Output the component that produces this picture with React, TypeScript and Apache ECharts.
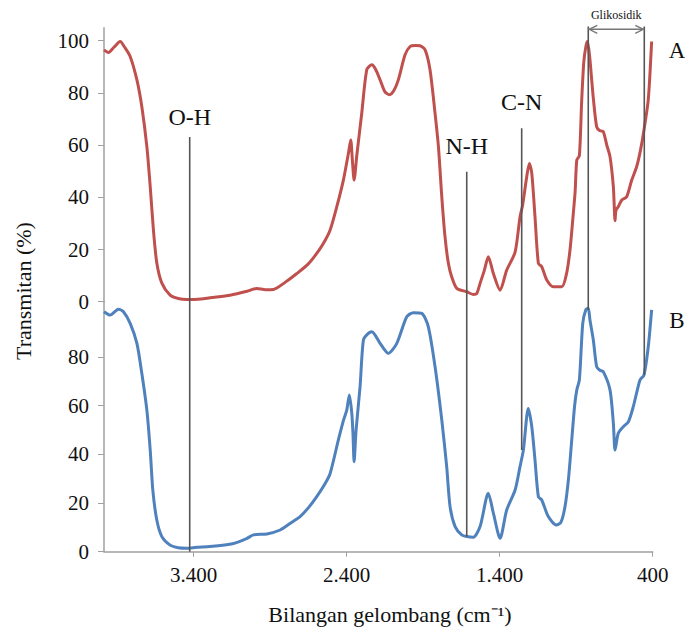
import React, { useEffect, useRef } from 'react';
import * as echarts from 'echarts';

// Spectrum A (red, upper panel): wavenumber (cm-1) and transmittance (%)
const waveA = [3985, 3956, 3920, 3879, 3850, 3814, 3770, 3738, 3705, 3683, 3662, 3640, 3607, 3553, 3500, 3444, 3350, 3292, 3161, 3050, 2987, 2930, 2878, 2800, 2725, 2650, 2595, 2550, 2508, 2464, 2421, 2388, 2373, 2362, 2351, 2333, 2301, 2268, 2235, 2210, 2181, 2150, 2120, 2090, 2062, 2018, 1985, 1950, 1920, 1887, 1855, 1822, 1800, 1778, 1757, 1735, 1713, 1680, 1615, 1572, 1550, 1528, 1500, 1474, 1441, 1397, 1354, 1299, 1267, 1250, 1223, 1206, 1190, 1169, 1147, 1125, 1092, 1049, 994, 962, 940, 920, 907, 896, 879, 864, 850, 836, 826, 812, 800, 788, 766, 745, 723, 700, 679, 657, 646, 640, 625, 602, 570, 537, 505, 480, 457, 429, 407];
const transA = [96.5, 95.5, 97.5, 99.7, 97.5, 94.0, 85.0, 74.8, 59.4, 44.1, 27.4, 14.8, 7.1, 2.5, 1.2, 0.8, 1.0, 1.5, 2.5, 4.0, 5.1, 4.6, 4.7, 7.5, 10.8, 14.5, 18.5, 22.5, 27.4, 36.4, 46.6, 56.9, 62.0, 54.0, 46.6, 56.2, 72.2, 88.9, 90.8, 89.0, 85.0, 80.5, 79.3, 81.0, 85.0, 94.6, 97.8, 98.2, 98.1, 96.5, 88.9, 72.2, 59.4, 40.2, 24.9, 14.7, 9.5, 5.1, 3.8, 2.8, 3.1, 7.0, 12.0, 17.2, 10.8, 4.4, 12.1, 19.0, 32.5, 37.0, 47.9, 53.0, 49.2, 32.5, 14.7, 13.4, 8.3, 5.7, 5.7, 11.0, 20.0, 33.0, 42.0, 54.3, 56.0, 77.0, 92.0, 98.0, 99.7, 94.0, 86.0, 78.0, 67.0, 65.5, 65.2, 60.0, 55.6, 44.0, 31.0, 35.0, 36.4, 39.0, 40.2, 46.6, 51.7, 58.0, 65.8, 77.4, 99.7];

// Spectrum B (blue, lower panel)
const waveB = [3985, 3945, 3891, 3858, 3814, 3770, 3738, 3705, 3683, 3666, 3640, 3607, 3553, 3500, 3444, 3380, 3292, 3139, 3050, 3009, 2921, 2834, 2760, 2704, 2650, 2595, 2540, 2508, 2454, 2420, 2399, 2382, 2366, 2358, 2351, 2338, 2312, 2290, 2260, 2235, 2181, 2127, 2072, 2007, 1964, 1909, 1866, 1822, 1778, 1746, 1724, 1691, 1648, 1615, 1572, 1528, 1474, 1441, 1397, 1354, 1299, 1267, 1245, 1213, 1190, 1169, 1147, 1125, 1082, 1030, 1000, 973, 950, 929, 910, 896, 879, 857, 836, 821, 810, 788, 766, 745, 723, 679, 657, 646, 625, 592, 559, 527, 483, 457, 429, 407];
const transB = [98.5, 97.1, 99.5, 98.5, 93.7, 85.5, 73.2, 58.1, 41.7, 25.3, 13.0, 6.2, 2.7, 1.6, 1.4, 1.8, 2.1, 3.4, 5.5, 6.9, 7.3, 8.9, 12.0, 14.4, 18.0, 22.6, 28.0, 32.0, 45.8, 54.0, 58.1, 64.3, 56.8, 48.0, 36.9, 49.9, 67.7, 86.9, 89.5, 90.3, 85.5, 81.4, 85.5, 96.4, 98.1, 97.8, 92.3, 75.9, 54.0, 34.9, 18.5, 10.3, 6.9, 6.2, 5.9, 10.3, 24.0, 15.8, 5.5, 17.1, 25.3, 34.9, 41.7, 58.8, 51.3, 37.6, 22.6, 21.2, 14.4, 11.0, 12.0, 18.5, 30.0, 45.8, 60.0, 66.4, 70.5, 93.7, 99.5, 99.9, 95.1, 86.9, 75.9, 74.5, 73.9, 66.4, 52.7, 41.7, 48.6, 51.3, 53.3, 59.5, 70.5, 72.5, 84.1, 99.2];

const waveTicks = [400, 1400, 2400, 3400];
const topTicks = [0, 20, 40, 60, 80, 100];
const bottomTicks = [0, 20, 40, 60, 80];

// Band annotations
const bandNames = ['O-H', 'N-H', 'C-N'];
const bandWave = [3425, 1615, 1256];
const bandLabelT = [70.8, 59.7, 76.6];
const bandTopT = [63.1, 49.8, 66.5];
const bandBottomT = [0, 6.2, 41.7];

const glikName = 'Glikosidik';
const glikWave = [821, 455];
const glikTopT = 105.5;
const glikBottomT = [99.2, 72.5];
const glikArrowT = 104.4;
const glikLabelT = 109.9;

const FONT = "'Liberation Serif', 'Times New Roman', serif";

function fmtWave(v: number) {
  if (v >= 1000) return Math.floor(v / 1000) + '.' + String(v % 1000).padStart(3, '0');
  return String(v);
}

export default function App() {
  const ref = useRef<HTMLDivElement>(null);
  useEffect(() => {
    document.body.style.margin = '0';
    const chart = echarts.init(ref.current as HTMLDivElement, null, { renderer: 'svg' });
    const axisColor = '#a0a0a0';
    const xCommon: any = { type: 'value', min: 400, max: 3985, inverse: true, splitLine: { show: false } };
    const yCommon: any = {
      type: 'value', min: 0, splitLine: { show: false },
      axisLine: { show: true, onZero: false, lineStyle: { color: axisColor, width: 1.5 } },
    };
    chart.setOption({
      animation: false,
      grid: [
        { left: 104, right: 32.3, top: 27.7, height: 274 },
        { left: 104, right: 32.3, top: 301.7, height: 250 },
      ],
      xAxis: [
        { ...xCommon, gridIndex: 0, show: false },
        {
          ...xCommon, gridIndex: 1,
          axisLine: { show: true, onZero: false, lineStyle: { color: axisColor, width: 1.5 } },
          axisTick: { show: true, customValues: waveTicks, length: 5, lineStyle: { color: axisColor } },
          axisLabel: { customValues: waveTicks, formatter: fmtWave, margin: 13, fontSize: 21, fontFamily: FONT, color: '#111' },
        },
      ],
      yAxis: [
        {
          ...yCommon, gridIndex: 0, max: 105,
          axisTick: { show: true, customValues: topTicks, length: 6, lineStyle: { color: axisColor } },
          axisLabel: { customValues: topTicks, margin: 15, fontSize: 21, fontFamily: FONT, color: '#111' },
        },
        {
          ...yCommon, gridIndex: 1, max: 102.6,
          axisTick: { show: true, customValues: bottomTicks, length: 6, lineStyle: { color: axisColor } },
          axisLabel: { customValues: bottomTicks, margin: 15, fontSize: 21, fontFamily: FONT, color: '#111' },
        },
      ],
      series: [
        {
          name: 'A', type: 'line', xAxisIndex: 0, yAxisIndex: 0, showSymbol: false, smooth: 0.25,
          data: waveA.map((w, i) => [w, transA[i]]),
          lineStyle: { color: '#C0504D', width: 3 }, itemStyle: { color: '#C0504D' },
        },
        {
          name: 'B', type: 'line', xAxisIndex: 1, yAxisIndex: 1, showSymbol: false, smooth: 0.25,
          data: waveB.map((w, i) => [w, transB[i]]),
          lineStyle: { color: '#4F81BD', width: 3 }, itemStyle: { color: '#4F81BD' },
        },
      ],
    });

    const pt = (g: number, x: number, y: number) => chart.convertToPixel({ gridIndex: g } as any, [x, y]) as number[];
    const annStroke = { stroke: '#555', lineWidth: 1.6 };
    const txt = (x: number, y: number, text: string, size: number, extra: any = {}) => ({
      type: 'text', x, y, z: 100, ...extra,
      style: { text, fontSize: size, fontFamily: FONT, fill: '#111', align: 'center', verticalAlign: 'middle', textAlign: 'center', textVerticalAlign: 'middle' },
    });
    const graphics: any[] = [];
    bandNames.forEach((name, i) => {
      const a = pt(0, bandWave[i], bandTopT[i]);
      const b = pt(1, bandWave[i], bandBottomT[i]);
      graphics.push({ type: 'line', z: 100, shape: { x1: a[0], y1: a[1], x2: b[0], y2: b[1] }, style: annStroke });
      const c = pt(0, bandWave[i], bandLabelT[i]);
      graphics.push(txt(c[0], c[1], name, 24));
    });
    glikWave.forEach((w, i) => {
      const a = pt(0, w, glikTopT);
      const b = pt(1, w, glikBottomT[i]);
      graphics.push({ type: 'line', z: 100, shape: { x1: a[0], y1: a[1], x2: b[0], y2: b[1] }, style: annStroke });
    });
    const l = pt(0, glikWave[0], glikArrowT);
    const r = pt(0, glikWave[1], glikArrowT);
    const arrowStyle = { stroke: '#777', lineWidth: 1.4, fill: null };
    graphics.push({ type: 'line', z: 100, shape: { x1: l[0], y1: l[1], x2: r[0], y2: r[1] }, style: arrowStyle });
    graphics.push({ type: 'polyline', z: 100, shape: { points: [[l[0] + 9, l[1] - 4], [l[0] + 1, l[1]], [l[0] + 9, l[1] + 4]] }, style: arrowStyle });
    graphics.push({ type: 'polyline', z: 100, shape: { points: [[r[0] - 9, r[1] - 4], [r[0] - 1, r[1]], [r[0] - 9, r[1] + 4]] }, style: arrowStyle });
    const gl = pt(0, glikWave[0], glikLabelT);
    graphics.push(txt((l[0] + r[0]) / 2, gl[1], glikName, 12));
    // Series labels and axis titles
    graphics.push(txt(677, 50, 'A', 23));
    graphics.push(txt(677, 320, 'B', 23));
    graphics.push(txt(390, 614, 'Bilangan gelombang (cm\u207B\u00B9)', 22));
    graphics.push(txt(23, 291, 'Transmitan (%)', 22, { rotation: Math.PI / 2 }));
    chart.setOption({ graphic: graphics });

    return () => chart.dispose();
  }, []);
  return <div ref={ref} style={{ width: 685, height: 630 }} />;
}
